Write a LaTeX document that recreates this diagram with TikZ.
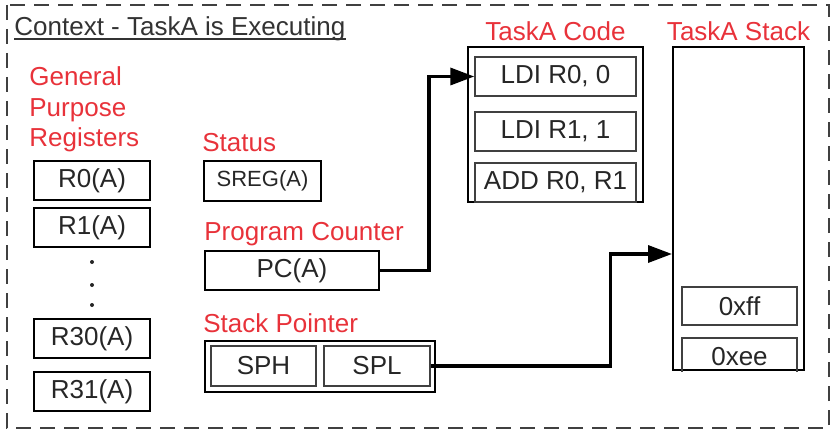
\documentclass[tikz,border=0pt]{standalone}
\usepackage{fontspec}
\setmainfont{Liberation Sans}
\usetikzlibrary{calc,positioning,arrows.meta}

\definecolor{lblred}{RGB}{232,50,58}

\begin{document}
\begin{tikzpicture}[x=0.5pt,y=-0.5pt]

  \tikzstyle{reg} = [draw, rectangle, line width=1pt, inner sep=0pt, minimum width=58pt, minimum height=19.5pt, text=black!85, font=\fontsize{13}{15}\selectfont]
  \tikzstyle{cell} = [draw=black!75, rectangle, line width=0.7pt, inner sep=0pt, minimum height=19.5pt, text=black!85, font=\fontsize{13}{15}\selectfont]
  \tikzstyle{lbl} = [inner sep=0pt, text=lblred, font=\fontsize{13}{15.25}\selectfont]
  \tikzstyle{link} = [line width=1.7pt, -{Triangle[length=12pt,width=8.5pt]}]

  \useasboundingbox (0,0) rectangle (835,433);
  \draw[black!75, line width=1.2pt, dash pattern=on 7.5pt off 4.5pt] (7,5) rectangle (829,428);

  % title
  \node[inner sep=0pt, anchor=base west, text=black!80, font=\fontsize{13}{15}\selectfont] (title) at (14,36) {Context - TaskA is Executing};
  \draw[black!80, line width=0.75pt] ([yshift=-1.5pt]title.base west) -- ([yshift=-1.5pt]title.base east);

  % general purpose registers
  \node[reg] (r0) at (92,180.5) {R0(A)};
  \node[reg] (r1) at (92,227.5) {R1(A)};
  \foreach \y in {262,285,305}
    \fill[black!85] (92,\y) circle (2);
  \node[reg] (r30) at (92,338.5) {R30(A)};
  \node[reg] (r31) at (92,391.5) {R31(A)};
  \node[lbl, align=left, above right=3.75pt and -2pt of r0.north west] (gpr) {General\\Purpose\\Registers};

  % status, program counter, stack pointer
  \node[reg, minimum width=58.5pt, minimum height=20pt, font=\fontsize{11}{13}\selectfont] (sreg) at (262.5,181) {SREG(A)};
  \node[lbl, above right=4pt and -0.5pt of sreg.north west] (status) {Status};

  \node[reg, minimum width=87pt] (pc) at (292,270.5) {PC(A)};
  \node[lbl, above right=1.75pt and 0pt of pc.north west] (pclbl) {Program Counter};

  \node[reg, minimum width=115pt, minimum height=25.5pt] (sp) at (320,366.5) {};
  \node[cell, minimum width=52.5pt, minimum height=20pt] (sph) at (263.5,366) {SPH};
  \node[cell, minimum width=53pt, minimum height=20pt] (spl) at (377,366) {SPL};
  \node[lbl, above right=3.5pt and -0.5pt of sp.north west] (splbl) {Stack Pointer};

  % code and stack memory
  \node[reg, minimum width=87.5pt, minimum height=77.5pt] (code) at (555.5,124.5) {};
  \node[cell, minimum width=80.5pt] (ldi0) at (555.5,76.5) {LDI R0, 0};
  \node[cell, minimum width=80.5pt] (ldi1) at (555.5,131.5) {LDI R1, 1};
  \node[cell, minimum width=80.5pt] (add) at (555.5,182.5) {ADD R0, R1};
  \node[lbl, above=2.5pt of code] (codelbl) {TaskA Code};

  \node[reg, minimum width=65.5pt, minimum height=161.5pt] (stack) at (738.5,208.5) {};
  \node[cell, minimum width=57.5pt, minimum height=19pt] (xff) at (739.5,306) {0xff};
  \begin{scope}
    \clip (stack.north west) rectangle (stack.south east);
    \node[cell, minimum width=57.5pt, minimum height=19pt] (xee) at (739.5,357) {0xee};
  \end{scope}
  \node[lbl, above=2.5pt of stack] (stacklbl) {TaskA Stack};
  \coordinate (tos) at ([yshift=-104pt]stack.north west);

  \draw[link] (pc.east) -- ++(49,0) |- (ldi0.west);
  \draw[link] (spl.east) -- ++(180,0) |- (tos);

\end{tikzpicture}
\end{document}
